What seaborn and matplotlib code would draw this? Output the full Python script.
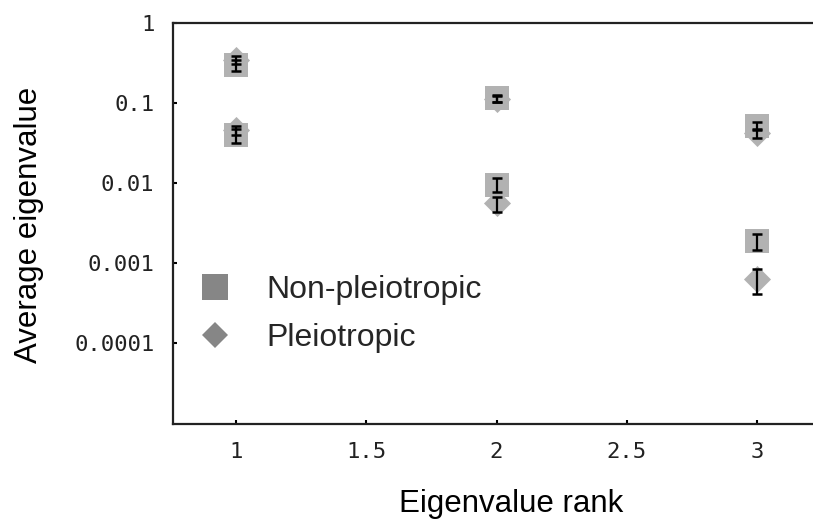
import numpy as np
import pandas as pd
import matplotlib
matplotlib.use("Agg")
import matplotlib.pyplot as plt
from matplotlib.lines import Line2D
import seaborn as sns

# ---- data ----
ranks = [1, 2, 3]
# upper group
nonpleio_hi = [0.30, 0.115, 0.052]
nonpleio_hi_err = [0.045, 0.012, 0.006]
pleio_hi = [0.35, 0.112, 0.042]
pleio_hi_err = [0.040, 0.010, 0.005]
# lower group
nonpleio_lo = [0.040, 0.0096, 0.0019]
nonpleio_lo_err = [0.008, 0.0019, 0.00045]
pleio_lo = [0.046, 0.0056, 0.00063]
pleio_lo_err = [0.006, 0.0012, 0.00022]

legend_labels = ["Non-pleiotropic", "Pleiotropic"]
xtick_vals = [1, 1.5, 2, 2.5, 3]
xtick_labels = ["1", "1.5", "2", "2.5", "3"]
ytick_vals = [1e-4, 1e-3, 1e-2, 1e-1, 1]
ytick_labels = ["0.0001", "0.001", "0.01", "0.1", "1"]

sns.set_theme(style="white")
plt.rcParams["font.family"] = ["Liberation Sans", "DejaVu Sans"]

fig = plt.figure(figsize=(8.13, 5.2), dpi=100)
L, R, T, B = 172.5, 813.0, 23.0, 423.5
AW, AH = R - L, B - T
ax = fig.add_axes([L / 813, (520 - B) / 520, AW / 813, AH / 520])

marker_col = "#b2b2b2"
legend_col = "#868686"

df_p = pd.DataFrame({"rank": ranks * 2, "value": pleio_hi + pleio_lo})
df_n = pd.DataFrame({"rank": ranks * 2, "value": nonpleio_hi + nonpleio_lo})

sns.scatterplot(data=df_p, x="rank", y="value", marker="D", s=190,
                color=marker_col, linewidth=0, ax=ax, zorder=2)
sns.scatterplot(data=df_n, x="rank", y="value", marker="s", s=275,
                color=marker_col, linewidth=0, ax=ax, zorder=3)

for vals, errs in [(pleio_hi, pleio_hi_err), (pleio_lo, pleio_lo_err),
                   (nonpleio_hi, nonpleio_hi_err), (nonpleio_lo, nonpleio_lo_err)]:
    ax.errorbar(ranks, vals, yerr=errs, fmt="none", ecolor="black",
                elinewidth=1.6, capsize=3.6, capthick=1.8, zorder=4)

ax.set_yscale("log")
ax.set_xlim(0.755, 3.216)
ax.set_ylim(1e-5, 1)

ax.set_xticks(xtick_vals)
ax.set_xticklabels(xtick_labels)
ax.set_yticks(ytick_vals)
ax.set_yticklabels(ytick_labels)
ax.yaxis.set_minor_locator(matplotlib.ticker.NullLocator())

mono = ["DejaVu Sans Mono"]
for lab in ax.get_xticklabels() + ax.get_yticklabels():
    lab.set_fontfamily(mono)
    lab.set_fontsize(16)
    lab.set_color("#222222")

ax.tick_params(axis="both", which="major", direction="in", length=3,
               width=1.5, color="black", pad=13, bottom=True, left=True)

for side in ["left", "bottom", "top"]:
    ax.spines[side].set_color("#222222")
    ax.spines[side].set_linewidth(1.6)
ax.spines["right"].set_visible(False)

ax.set_xlabel("Eigenvalue rank", fontsize=22.5, color="black")
ax.set_ylabel("Average eigenvalue", fontsize=22.5, color="black")
ax.xaxis.set_label_coords((511 - L) / AW, -(489 - B) / AH)
ax.yaxis.set_label_coords(-(L - 44) / AW, (B - 225) / AH)

handles = [
    Line2D([], [], linestyle="none", marker="s", markersize=18.7,
           markerfacecolor=legend_col, markeredgewidth=0),
    Line2D([], [], linestyle="none", marker="D", markersize=13.2,
           markerfacecolor=legend_col, markeredgewidth=0),
]
leg = ax.legend(handles, legend_labels, loc="center left",
                bbox_to_anchor=((198.7 - L) / AW, (B - 314) / AH),
                frameon=False, fontsize=23, handlelength=1.0,
                handletextpad=1.12, borderpad=0, borderaxespad=0,
                labelspacing=0.58)

fig.savefig("out.png", dpi=100)
